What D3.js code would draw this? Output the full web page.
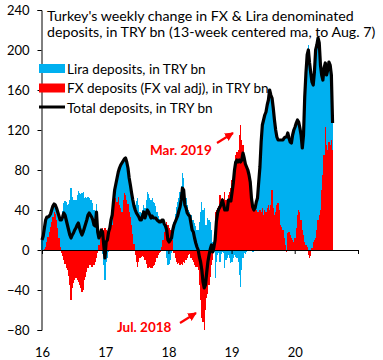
<!DOCTYPE html>
<html><head><meta charset="utf-8">
<script src="https://cdn.jsdelivr.net/npm/d3@7"></script>
<style>
html,body{margin:0;padding:0;background:#fff;}
svg{display:block;font-family:Lato,"Open Sans",sans-serif;}
</style></head>
<body><svg id="c" width="383" height="360"></svg>
<script>
// Weekly data, 13-week centered moving average, in TRY bn (Jan 1 2016 .. Aug 7 2020)
const startDate = "2016-01-01";
const fxDeposits = [
 0,0,1,3,8,13,18,23,28,33,38,
 36,30,22,12,3,
 -3,-6,-10,-14,-18,
 -20,-26,-35,-50,-38,
 -33,-30,-28,-30,-32,
 -35,-38,-42,-40,-30,
 -27,-22,-18,-15,-15,-17,
 -17,-15,-12,-8,-3,5,15,20,22,
 20,22,20,18,20,22,25,
 25,38,50,52,48,53,45,42,38,50,57,55,50,46,38,33,25,16,6,-5,-12,-17,-12,-8,-7,
 -6,-7,-10,-14,-18,-18,-17,-18,-18,-16,-15,-12,-8,-5,-3,-2,3,10,
 18,24,28,25,22,20,15,10,
 -3,-8,-12,-14,-13,-15,-14,-15,-12,-13,-10,-8,-5,-4,-8,-10,
 -12,-15,-17,-17,-20,-35,-50,-68,-72,-80,-60,-48,-44,-35,-27,-15,-10,5,
 38,40,42,44,55,50,52,48,58,50,48,55,58,62,70,75,85,95,98,100,115,125,110,
 105,95,90,85,80,72,60,52,45,42,40,40,38,38,40,38,42,35,40,38,42,45,40,45,60,42,35,38,45,47,40,25,23,20,12,5,-2,
 17,18,15,12,10,8,12,22,35,40,38,30,20,15,8,5,3,-5,-8,-6,2,8,10,12,20,30,35,40,60,75,95,123,105,100,108,105,110,100
];
const liraDeposits = [
 10,14,21,27,25,20,16,13,12,11,8,
 9,12,16,22,27,
 33,39,47,49,48,
 45,46,50,62,53,
 50,50,50,55,59,
 57,56,57,58,52,
 53,52,53,52,50,50,
 47,40,36,46,21,7,0,0,-4,
 -15,-30,-12,-8,-2,0,5,
 10,10,10,14,24,25,37,43,49,39,34,37,38,36,34,32,32,34,38,45,49,52,45,38,37,
 40,45,42,50,58,56,52,50,52,48,47,44,38,34,31,30,27,20,
 8,0,-8,-15,-14,-10,-3,10,
 28,36,43,48,52,58,64,77,72,58,52,45,40,38,35,30,
 30,27,24,20,20,28,38,48,40,42,25,25,32,30,28,20,8,-2,
 -28,-12,-5,-3,-12,-4,-2,-3,-18,-10,-8,-5,-8,-13,-12,-8,-5,-7,-8,-12,-25,-37,-20,
 -8,-3,-4,-2,0,3,8,0,-2,-2,2,8,14,30,43,70,83,95,95,100,103,105,120,110,92,100,95,82,68,63,70,85,87,90,100,108,115,
 100,94,93,95,105,112,111,105,95,88,84,85,82,100,145,172,192,205,195,183,166,157,168,188,185,182,172,145,115,95,87,64,70,80,80,80,65,27
];
const yTicks = [-80,-40,0,40,80,120,160,200,240];
const xTickYears = [2016,2017,2018,2019,2020,2021];
const xTickLabels = ["16","17","18","19","20",""];
const titleLines = ["Turkey's weekly change in FX & Lira denominated","deposits, in TRY bn (13-week centered ma, to Aug. 7)"];
const legendLabels = ["Lira deposits, in TRY bn","FX deposits (FX val adj), in TRY bn","Total deposits, in TRY bn"];
const annotations = [
  {text:"Mar. 2019", date:"2019-03-15"},
  {text:"Jul. 2018", date:"2018-07-15"}
];

const BLUE="#00B0F0", RED="#FF0000";
const svg = d3.select("#c");
const parse = d3.timeParse("%Y-%m-%d");
const t0 = parse(startDate);
const rows = fxDeposits.map((fx,i)=>({date:d3.timeDay.offset(t0,i*7), fx, lira:liraDeposits[i]}));
rows.forEach(r=>r.total=r.fx+r.lira);

const x = d3.scaleTime().domain([new Date(2016,0,1), new Date(2021,0,1)]).range([42,358]);
const y = d3.scaleLinear().domain([-80,240]).range([330,10]);

const stack = d3.stack().keys(["fx","lira"]).offset(d3.stackOffsetDiverging);
const series = stack(rows);
const colors = {fx:RED, lira:BLUE};
const wk = x(d3.timeDay.offset(t0,7)) - x(t0);
const bx0 = d => Math.round(x(d.data.date) - wk/2);
const bx1 = d => Math.round(x(d.data.date) + wk/2);

series.forEach(s=>{
  svg.append("g").attr("fill",colors[s.key]).attr("shape-rendering","crispEdges")
    .selectAll("rect").data(s).join("rect")
    .attr("x",d=>bx0(d))
    .attr("width",d=>Math.max(1,bx1(d)-bx0(d)))
    .attr("y",d=>Math.round(y(Math.max(d[0],d[1]))))
    .attr("height",d=>Math.round(y(Math.min(d[0],d[1])))-Math.round(y(Math.max(d[0],d[1]))));
});

// axes
const yAxis = d3.axisLeft(y).tickValues(yTicks).tickSize(4).tickPadding(8);
const gy = svg.append("g").attr("transform","translate(41.5,0)").call(yAxis);
gy.selectAll("text").attr("font-size","13px").attr("fill","#000").attr("font-family","Lato");
gy.selectAll("line,path").attr("stroke","#000");

const xAxis = d3.axisBottom(x).tickValues(xTickYears.map(v=>new Date(v,0,1)))
  .tickFormat((d,i)=>xTickLabels[i]).tickSize(4).tickSizeOuter(0).tickPadding(0);
const gx = svg.append("g").attr("transform",`translate(0,${y(0)})`).call(xAxis);
gx.select(".domain").attr("stroke","#000");
gx.selectAll("line").attr("stroke","#000");
gx.selectAll("text").attr("font-size","13px").attr("fill","#000").attr("font-family","Lato")
  .attr("y",null).attr("dy",null).attr("transform",`translate(0,${357-y(0)})`);

// total line
svg.append("path").datum(rows)
  .attr("fill","none").attr("stroke","#000").attr("stroke-width",3.2).attr("stroke-linejoin","round")
  .attr("d",d3.line().x(d=>x(d.date)).y(d=>y(d.total)));

// title
svg.append("g").selectAll("text").data(titleLines).join("text")
  .attr("x",47).attr("y",(d,i)=>21+i*16).attr("font-size","14.2px").attr("fill","#000").text(d=>d);

// legend
const lg = svg.append("g");
[BLUE,RED].forEach((c,i)=>{
  lg.append("rect").attr("x",39).attr("y",64+i*19.5).attr("width",26).attr("height",9).attr("fill",c);
});
lg.append("line").attr("x1",39).attr("x2",65).attr("y1",107).attr("y2",107).attr("stroke","#000").attr("stroke-width",3);
lg.selectAll("text").data(legendLabels).join("text")
  .attr("x",67).attr("y",(d,i)=>73.5+i*19.5).attr("font-size","13.6px").attr("fill","#000").text(d=>d);

// annotations
const defs = svg.append("defs");
defs.append("marker").attr("id","ah").attr("viewBox","0 0 10 10").attr("refX",9).attr("refY",5)
  .attr("markerWidth",4).attr("markerHeight",4).attr("orient","auto")
  .append("path").attr("d","M0,0L10,5L0,10z").attr("fill",RED);
const a1 = annotations[0], a2 = annotations[1];
svg.append("text").attr("x",150).attr("y",155).attr("font-size","13.5px").attr("font-weight","bold").attr("fill",RED).text(a1.text);
svg.append("line").attr("x1",217).attr("y1",143).attr("x2",233).attr("y2",133).attr("stroke",RED).attr("stroke-width",2.2).attr("marker-end","url(#ah)");
svg.append("text").attr("x",117).attr("y",332).attr("font-size","13.5px").attr("font-weight","bold").attr("fill",RED).text(a2.text);
svg.append("line").attr("x1",180).attr("y1",323).attr("x2",196).attr("y2",313).attr("stroke",RED).attr("stroke-width",2.2).attr("marker-end","url(#ah)");
</script></body></html>
